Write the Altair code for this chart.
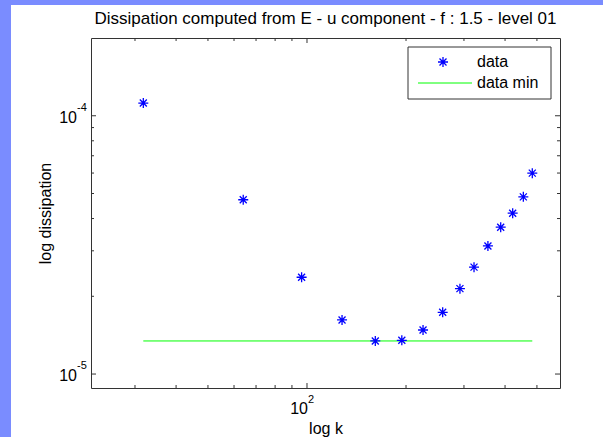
import altair as alt
import pandas as pd

# Wavenumber k and the dissipation estimated at each one
k_vals = [31.8, 64.0, 96.3, 127.8, 161.3, 194.2, 225.3, 258.5,
          291.7, 321.9, 354.8, 388.0, 421.9, 454.6, 484.0]
dissipation = [1.12e-4, 4.73e-5, 2.37e-5, 1.62e-5, 1.343e-5, 1.351e-5,
               1.481e-5, 1.734e-5, 2.141e-5, 2.593e-5, 3.133e-5,
               3.703e-5, 4.196e-5, 4.853e-5, 5.995e-5]

# Axis limits and tick positions (log axes)
x_domain = [22.05, 587.6]
y_domain = [8.83e-6, 2.0e-4]
x_major = [100]
x_exponent = ["2"]
x_minor = [30, 40, 50, 60, 70, 80, 90, 200, 300, 400, 500]
y_major = [1e-5, 1e-4]
y_exponent = ["-5", "-4"]
y_minor = [2e-5, 3e-5, 4e-5, 5e-5, 6e-5, 7e-5, 8e-5, 9e-5]

legend_labels = ["data", "data min"]
title_text = ["Dissipation computed from E - u component - f : 1.5 - level 01"]

W, H = 469, 350
FONT = "Liberation Sans"
FS = 16
AXIS_COLOR = "#333333"
SLIDE_BLUE = "#7a8cff"
STAR = "M-1,0L1,0M0,-1L0,1M-0.7,-0.7L0.7,0.7M-0.7,0.7L0.7,-0.7"

xs = alt.Scale(type="log", domain=x_domain, nice=False)
ys = alt.Scale(type="log", domain=y_domain, nice=False)

x_axis = alt.Axis(values=x_major, labels=False, ticks=False, tickSize=0,
                  domain=False, grid=False, titleFont=FONT,
                  titleFontSize=FS, titleFontWeight="normal", titleColor="black",
                  titleX=W / 2, titleY=40, titleBaseline="middle", zindex=1)
y_axis = alt.Axis(values=y_major, labels=False, ticks=False, tickSize=0,
                  domain=False, grid=False, titleFont=FONT, titleFontSize=FS,
                  titleFontWeight="normal", titleColor="black",
                  titleX=-46, titleY=H / 2, titleBaseline="middle", zindex=1)


def X(field):
    return alt.X(field, scale=xs, axis=x_axis, title="log k")


def Y(field):
    return alt.Y(field, scale=ys, axis=y_axis, title="log dissipation")


df = pd.DataFrame({"k": k_vals, "diss": dissipation})
dmin = pd.DataFrame({"k0": [k_vals[0]], "k1": [k_vals[-1]], "d": [min(dissipation)]})
one = pd.DataFrame({"a": [0]})

# blue slide edges around the figure
strip_left = alt.Chart(one).mark_rect(color=SLIDE_BLUE).encode(
    x=alt.value(-91), x2=alt.value(-80), y=alt.value(-38), y2=alt.value(H + 49))
strip_top = alt.Chart(one).mark_rect(color=SLIDE_BLUE).encode(
    x=alt.value(-91), x2=alt.value(W + 43), y=alt.value(-38), y2=alt.value(-33))

points = alt.Chart(df).mark_point(
    shape=STAR, filled=False, color="#0000ff", size=100, strokeWidth=1.3, opacity=1
).encode(x=X("k:Q"), y=Y("diss:Q"))

min_line = alt.Chart(dmin).mark_rule(color="#00ff00", strokeWidth=1).encode(
    x=X("k0:Q"), x2="k1:Q", y=Y("d:Q"))


def y_ticks(vals, length):
    d = pd.DataFrame({"v": vals})
    left = alt.Chart(d).mark_rule(color=AXIS_COLOR).encode(
        y=Y("v:Q"), x=alt.value(0), x2=alt.value(length))
    right = alt.Chart(d).mark_rule(color=AXIS_COLOR).encode(
        y=Y("v:Q"), x=alt.value(W), x2=alt.value(W - length))
    return [left, right]


def x_ticks(vals, length):
    d = pd.DataFrame({"v": vals})
    bottom = alt.Chart(d).mark_rule(color=AXIS_COLOR).encode(
        x=X("v:Q"), y=alt.value(H), y2=alt.value(H - length))
    top = alt.Chart(d).mark_rule(color=AXIS_COLOR).encode(
        x=X("v:Q"), y=alt.value(0), y2=alt.value(length))
    return [bottom, top]


ticks = y_ticks(y_major, 5) + y_ticks(y_minor, 3) + x_ticks(x_major, 5) + x_ticks(x_minor, 3)

# decade tick labels written as 10 with a raised exponent
ylab = pd.DataFrame({"v": y_major, "base": ["10"] * len(y_major), "exp": y_exponent})
ylab_base = alt.Chart(ylab).mark_text(
    align="right", baseline="middle", font=FONT, fontSize=FS, color="black", dy=2
).encode(y=Y("v:Q"), x=alt.value(-14), text="base:N")
ylab_exp = alt.Chart(ylab).mark_text(
    align="left", baseline="middle", font=FONT, fontSize=11, color="black", dy=-8
).encode(y=Y("v:Q"), x=alt.value(-14), text="exp:N")

xlab = pd.DataFrame({"v": x_major, "base": ["10"] * len(x_major), "exp": x_exponent})
xlab_base = alt.Chart(xlab).mark_text(
    align="right", baseline="middle", font=FONT, fontSize=FS, color="black", dx=1
).encode(x=X("v:Q"), y=alt.value(H + 21), text="base:N")
xlab_exp = alt.Chart(xlab).mark_text(
    align="left", baseline="middle", font=FONT, fontSize=11, color="black", dx=1
).encode(x=X("v:Q"), y=alt.value(H + 12), text="exp:N")

# plot title
title = alt.Chart(pd.DataFrame({"t": title_text})).mark_text(
    align="center", baseline="middle", font=FONT, fontSize=17, color="black"
).encode(x=alt.value(W / 2), y=alt.value(-19), text="t:N")

# legend box
leg_box = alt.Chart(one).mark_rect(fill="white", stroke=AXIS_COLOR, strokeWidth=1).encode(
    x=alt.value(317), x2=alt.value(460), y=alt.value(9), y2=alt.value(61)
)
leg_star = alt.Chart(one).mark_point(
    shape=STAR, filled=False, color="#0000ff", size=100, strokeWidth=1.3, opacity=1
).encode(x=alt.value(352), y=alt.value(24))
leg_line = alt.Chart(one).mark_rule(color="#00ff00", strokeWidth=1).encode(
    x=alt.value(327), x2=alt.value(381), y=alt.value(45)
)
leg_df = pd.DataFrame({"label": legend_labels, "ypix": [24, 45]})
leg_text = alt.Chart(leg_df).mark_text(
    align="left", baseline="middle", font=FONT, fontSize=FS, color="black"
).encode(x=alt.value(386), y=alt.Y("ypix:Q", scale=None, axis=None), text="label:N")

chart = alt.layer(
    strip_left, strip_top, title, min_line, points, *ticks,
    ylab_base, ylab_exp, xlab_base, xlab_exp,
    leg_box, leg_star, leg_line, leg_text
).properties(
    width=W, height=H,
    autosize=alt.AutoSizeParams(type="none"),
    padding={"left": 91, "top": 38, "right": 43, "bottom": 49},
).configure(
    background="white",
).configure_view(
    stroke=AXIS_COLOR, strokeWidth=1, fill="white"
)

chart.save("out.html", embed_options={"renderer": "svg", "actions": False})
